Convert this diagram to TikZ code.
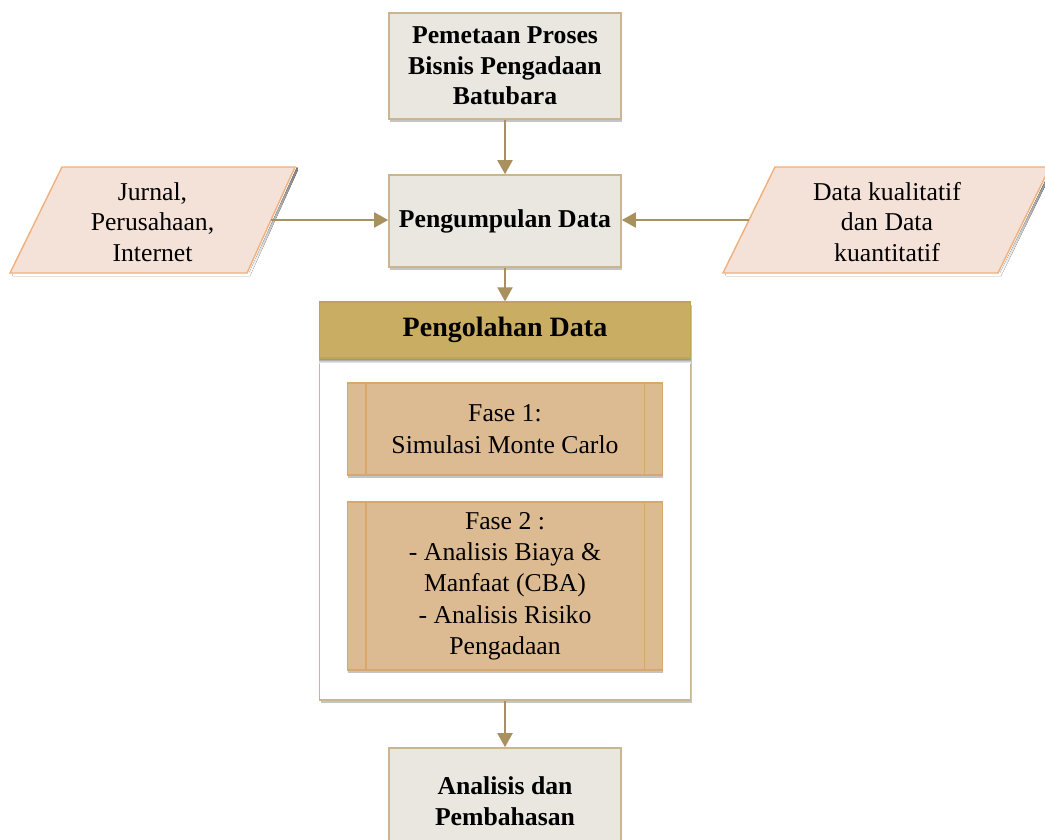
\documentclass[tikz,border=0pt]{standalone}
\usepackage{fontspec}
\setmainfont{Liberation Serif}
\usetikzlibrary{arrows.meta,shadows}
\definecolor{boxfill}{HTML}{EAE7E1}
\definecolor{boxline}{HTML}{C9B590}
\definecolor{arrcol}{HTML}{A8905F}
\definecolor{parfill}{HTML}{F4E2D9}
\definecolor{parline}{HTML}{F0B07C}
\definecolor{headfill}{HTML}{C9AD62}
\definecolor{headline}{HTML}{BFA458}
\definecolor{phasefill}{HTML}{DDBB92}
\definecolor{phaseline}{HTML}{D8A76C}
\definecolor{shade}{HTML}{C4C4C4}
\tikzset{
  txt/.style={font=\fontsize{25.7}{30.5}\selectfont, align=center},
  mainbox/.style={txt, font=\fontsize{25.7}{30.5}\selectfont\bfseries, draw=boxline, line width=1.6pt, fill=boxfill,
    minimum width=232pt, inner sep=0pt,
    drop shadow={shadow xshift=1pt, shadow yshift=-3pt, fill=shade, opacity=1}},
  phasebox/.style={txt, font=\fontsize{25.7}{31.3}\selectfont, draw=phaseline, line width=1.2pt, fill=phasefill,
    minimum width=315pt, inner sep=0pt,
    drop shadow={shadow xshift=0pt, shadow yshift=-3pt, fill=shade, opacity=1}},
  arr/.style={draw=arrcol, line width=2pt, -{Triangle[width=15pt,length=14pt]}},
  parshape/.style={fill=parfill, draw=parline, line width=1.4pt, line join=miter},
}
\begin{document}
\begin{tikzpicture}[x=1pt,y=-1pt]
\useasboundingbox (0,0) rectangle (1045,839);
\fill[white] (0,0) rectangle (1045,839);

% main process boxes
\node[mainbox, minimum height=106pt] (map) at (505,66) {Pemetaan Proses\\Bisnis Pengadaan\\Batubara};
\node[mainbox, minimum height=92pt] (coll) at (505,221) {Pengumpulan Data};

% data processing container with header
\node[draw=boxline, line width=1.6pt, fill=white, minimum width=371pt, minimum height=398pt, inner sep=0pt,
  drop shadow={shadow xshift=1pt, shadow yshift=-3pt, fill=shade, opacity=1}] (proc) at (505,501) {};
\fill[shade] (319.5,358) rectangle (690.5,363);
\node[txt, font=\fontsize{28}{32}\selectfont\bfseries, draw=headline, line width=1.2pt, fill=headfill,
  minimum width=371pt, minimum height=56pt, inner sep=0pt] (head) at (505,330) {Pengolahan Data};

% phases
\node[phasebox, minimum height=92pt] (f1) at (505,429) {Fase 1:\\Simulasi Monte Carlo};
\node[phasebox, minimum height=168pt] (f2) at (505,586) {Fase 2 :\\- Analisis Biaya \&\\Manfaat (CBA)\\- Analisis Risiko\\Pengadaan};
\foreach \f in {f1,f2}{
  \draw[phaseline, line width=1.2pt] ([xshift=19pt]\f.north west) -- ([xshift=19pt]\f.south west);
  \draw[phaseline, line width=1.2pt] ([xshift=-19pt]\f.north east) -- ([xshift=-19pt]\f.south east);
}

% result box
\node[mainbox, minimum height=106pt] (res) at (505,801) {Analisis dan\\Pembahasan};

% input parallelograms with a soft shadow underneath
\fill[shade] (12,273) -- (249,273) -- (297,167) -- (298,170) -- (250,276) -- (13,276) -- cycle;
\draw[parshape] (10,273) -- (247,273) -- (295,167) -- (62,167) -- cycle;
\node[txt] (src) at (152.5,222) {Jurnal,\\Perusahaan,\\Internet};
\coordinate (srcR) at (271,220);

\fill[shade] (725,273) -- (1000,273) -- (1052,167) -- (1053,170) -- (1001,276) -- (726,276) -- cycle;
\draw[parshape] (723,273) -- (998,273) -- (1050,167) -- (775,167) -- cycle;
\node[txt] (kind) at (887,222) {Data kualitatif\\dan Data\\kuantitatif};
\coordinate (kindL) at (749,220);

% connectors
\draw[arr] (map.south) -- (coll.north);
\draw[arr] (srcR) -- (coll.west |- srcR);
\draw[arr] (kindL) -- (coll.east |- kindL);
\draw[arr] (coll.south) -- (head.north);
\draw[arr] (proc.south) -- (res.north);
\end{tikzpicture}
\end{document}
